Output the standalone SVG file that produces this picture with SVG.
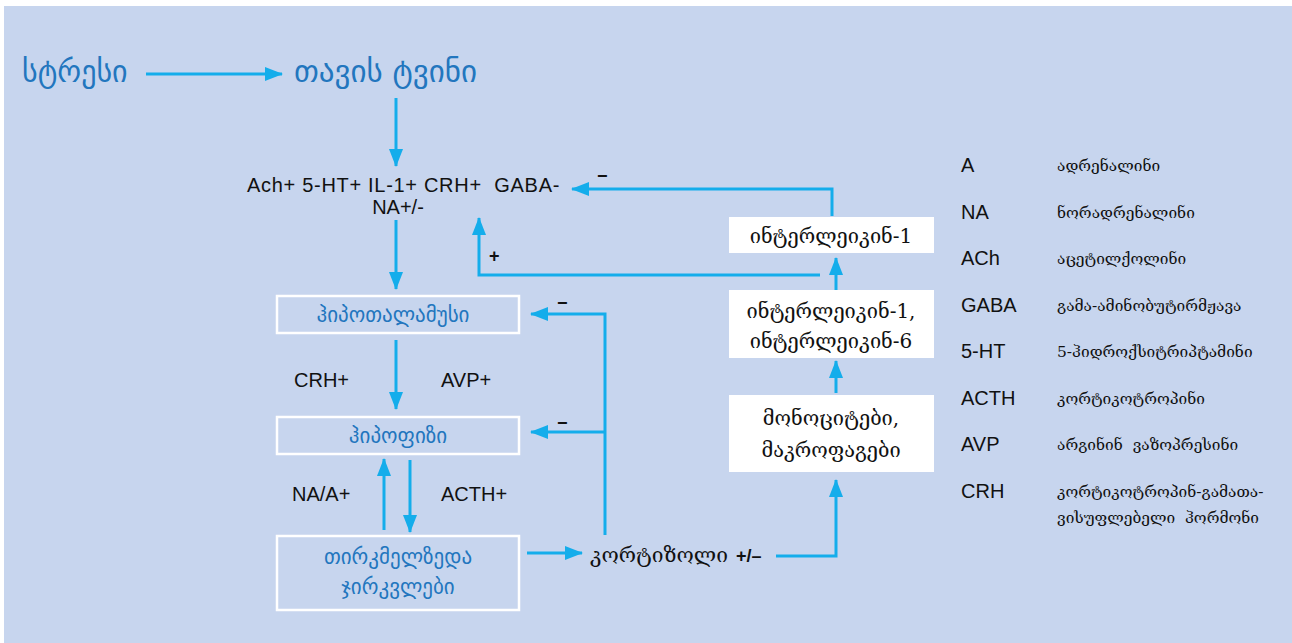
<svg xmlns="http://www.w3.org/2000/svg" width="1292" height="643" viewBox="0 0 1292 643">
<defs>
<marker id="ah" markerWidth="18" markerHeight="14" refX="17" refY="7" orient="auto" markerUnits="userSpaceOnUse">
<path d="M0,0 L18,7 L0,14 Z" fill="#14ADEB"/>
</marker>
<style>
.conn{fill:none;stroke:#14ADEB;stroke-width:3}
.lat{font-family:"Liberation Sans",Arial,sans-serif;font-size:20px;fill:#111}
.geoB{font-family:"DejaVu Sans","Noto Sans",sans-serif;fill:#2276BE}
.geoK{font-family:"DejaVu Serif","DejaVu Sans",serif;fill:#111}
.box{fill:none;stroke:#fff;stroke-width:2.5}
.wbox{fill:#fff;stroke:none}
.sign{font-family:"Liberation Sans",Arial,sans-serif;font-size:18px;font-weight:bold;fill:#111}
</style>
</defs>
<rect x="0" y="0" width="1292" height="643" fill="#fff"/>
<rect x="4" y="6" width="1288" height="637" fill="#C7D5EE"/>

<g id="connectors">
<line class="conn" x1="146" y1="74" x2="282" y2="74" marker-end="url(#ah)"/>
<line class="conn" x1="396" y1="98" x2="396" y2="166" marker-end="url(#ah)"/>
<line class="conn" x1="396" y1="220" x2="396" y2="289" marker-end="url(#ah)"/>
<line class="conn" x1="396" y1="340" x2="396" y2="409" marker-end="url(#ah)"/>
<line class="conn" x1="384" y1="530" x2="384" y2="459" marker-end="url(#ah)"/>
<line class="conn" x1="410" y1="460" x2="410" y2="532" marker-end="url(#ah)"/>
<line class="conn" x1="527" y1="553" x2="582" y2="553" marker-end="url(#ah)"/>
<polyline class="conn" points="776,556 836,556 836,480" marker-end="url(#ah)"/>
<line class="conn" x1="836" y1="393" x2="836" y2="361" marker-end="url(#ah)"/>
<line class="conn" x1="836" y1="290" x2="836" y2="258" marker-end="url(#ah)"/>
<polyline class="conn" points="820,275 479,275 479,218" marker-end="url(#ah)"/>
<polyline class="conn" points="832,216 832,189 572,189" marker-end="url(#ah)"/>
<polyline class="conn" points="605,535 605,314 531,314" marker-end="url(#ah)"/>
<line class="conn" x1="605" y1="432" x2="531" y2="432" marker-end="url(#ah)"/>
<text class="sign" x="597" y="182">−</text>
<text class="sign" x="489" y="262">+</text>
<text class="sign" x="557" y="309">−</text>
<text class="sign" x="557" y="429">−</text>
</g>

<g id="stress">
<text class="geoB" x="22" y="82" font-size="30">სტრესი</text>
</g>
<g id="brain">
<text class="geoB" x="294" y="82" font-size="31">თავის ტვინი</text>
</g>
<g id="mediators">
<text class="lat" x="247" y="192" font-size="21" letter-spacing="0.7" xml:space="preserve">Ach+ 5-HT+ IL-1+ CRH+  GABA-</text>
<text class="lat" x="398" y="214" font-size="21" text-anchor="middle">NA+/-</text>
</g>
<g id="hypothalamus">
<rect class="box" x="277" y="296" width="242" height="37"/>
<text class="geoB" x="393" y="322" font-size="21" text-anchor="middle">ჰიპოთალამუსი</text>
</g>
<g id="crh-avp">
<text class="lat" x="294" y="387" font-size="21">CRH+</text>
<text class="lat" x="441" y="387" font-size="21">AVP+</text>
</g>
<g id="hypophysis">
<rect class="box" x="277" y="417" width="242" height="37"/>
<text class="geoB" x="398" y="443" font-size="21" text-anchor="middle">ჰიპოფიზი</text>
</g>
<g id="na-acth">
<text class="lat" x="292" y="501" font-size="21">NA/A+</text>
<text class="lat" x="441" y="501" font-size="21">ACTH+</text>
</g>
<g id="adrenal">
<rect class="box" x="277" y="536" width="242" height="74"/>
<text class="geoB" x="398" y="564" font-size="21" text-anchor="middle">თირკმელზედა</text>
<text class="geoB" x="398" y="594" font-size="21" text-anchor="middle">ჯირკვლები</text>
</g>
<g id="cortisol">
<text class="geoK" x="590" y="562" font-size="21">კორტიზოლი</text>
<text class="sign" x="736" y="562" font-size="19">+/–</text>
</g>
<g id="monocytes">
<rect class="wbox" x="729" y="395" width="205" height="77"/>
<text class="geoK" x="831" y="425" font-size="20" text-anchor="middle">მონოციტები,</text>
<text class="geoK" x="831" y="457" font-size="20" text-anchor="middle">მაკროფაგები</text>
</g>
<g id="il1-il6">
<rect class="wbox" x="729" y="290" width="205" height="68"/>
<text class="geoK" x="831" y="318" font-size="20" text-anchor="middle">ინტერლეიკინ-1,</text>
<text class="geoK" x="831" y="348" font-size="20" text-anchor="middle">ინტერლეიკინ-6</text>
</g>
<g id="il1">
<rect class="wbox" x="729" y="217" width="205" height="36"/>
<text class="geoK" x="831" y="243" font-size="20" text-anchor="middle">ინტერლეიკინ-1</text>
</g>
<g id="legend">
<g class="lat" font-size="20">
<text x="961" y="172">A</text>
<text x="961" y="219">NA</text>
<text x="961" y="265">ACh</text>
<text x="961" y="312">GABA</text>
<text x="961" y="358">5-HT</text>
<text x="961" y="405">ACTH</text>
<text x="961" y="451">AVP</text>
<text x="961" y="498">CRH</text>
</g>
<g class="geoK" font-size="15.5">
<text x="1057" y="171">ადრენალინი</text>
<text x="1057" y="218">ნორადრენალინი</text>
<text x="1057" y="264">აცეტილქოლინი</text>
<text x="1057" y="311">გამა-ამინობუტირმჟავა</text>
<text x="1057" y="357">5-ჰიდროქსიტრიპტამინი</text>
<text x="1057" y="404">კორტიკოტროპინი</text>
<text x="1057" y="450" xml:space="preserve">არგინინ  ვაზოპრესინი</text>
<text x="1057" y="497">კორტიკოტროპინ-გამათა-</text>
<text x="1057" y="523" xml:space="preserve">ვისუფლებელი  ჰორმონი</text>
</g>
</g>
</svg>
